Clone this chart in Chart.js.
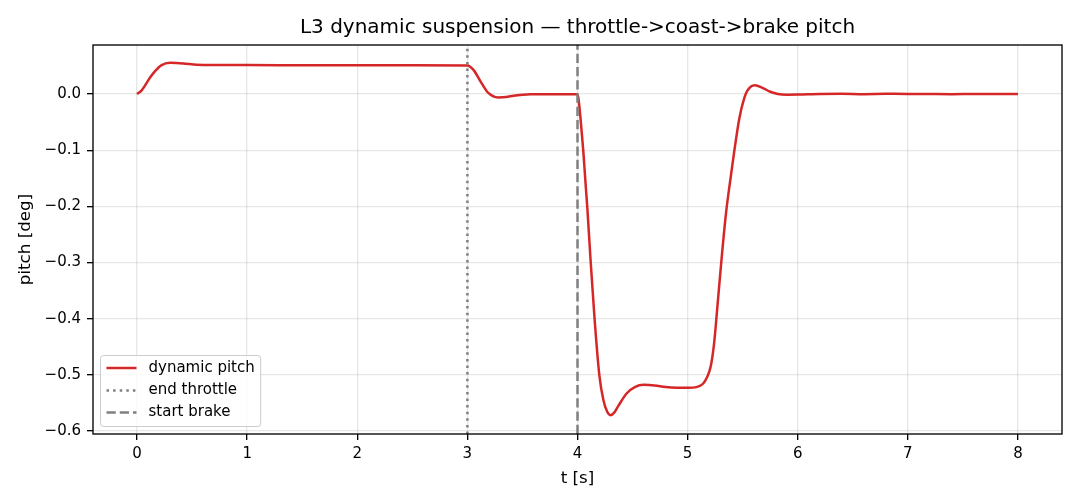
<!DOCTYPE html>
<html>
<head>
<meta charset="utf-8">
<script src="https://cdn.jsdelivr.net/npm/chart.js@4.4.1/dist/chart.umd.min.js"></script>
<style>
  html, body { margin: 0; padding: 0; background: #ffffff; }
  #wrap { width: 1080px; height: 504px; }
</style>
</head>
<body>
<div id="wrap"><canvas id="c" width="1080" height="504"></canvas></div>
<script>
// ---- data ----
const titleText = 'L3 dynamic suspension \u2014 throttle->coast->brake pitch';
const xLabel = 't [s]';
const yLabel = 'pitch [deg]';
const seriesLabels = ['dynamic pitch', 'end throttle', 'start brake'];

const tSeconds = [0, 0.04, 0.085, 0.12, 0.16, 0.22, 0.3, 0.42, 0.54, 0.7, 1.0, 1.5, 2.0, 2.5, 3.0,
  3.055, 3.13, 3.19, 3.28, 3.35, 3.42, 3.5, 3.57, 3.7, 3.85, 4.0,
  4.01, 4.03, 4.052, 4.076, 4.09, 4.12, 4.155, 4.198, 4.235, 4.27, 4.30, 4.335, 4.372, 4.448, 4.52, 4.60,
  4.7, 4.8, 4.9, 5.007, 5.08, 5.14, 5.175, 5.21, 5.24, 5.27, 5.31, 5.35, 5.39, 5.425, 5.47,
  5.515, 5.54, 5.61, 5.68, 5.75, 5.82, 5.90, 6.0, 6.2, 6.4, 6.6, 6.8, 7.0, 7.2, 7.4, 7.6, 7.8, 8.0];
const pitchDeg = [0, 0.006, 0.019, 0.030, 0.040, 0.051, 0.0555, 0.0545, 0.052, 0.0515, 0.0515, 0.0513, 0.0512, 0.0511, 0.0510,
  0.043, 0.019, 0.002, -0.006, -0.0055, -0.003, -0.0012, -0.0003, -0.0002, -0.0004, -0.0005,
  -0.010, -0.049, -0.100, -0.167, -0.205, -0.300, -0.400, -0.500, -0.545, -0.566, -0.572, -0.567, -0.555, -0.533, -0.522, -0.518,
  -0.519, -0.522, -0.523, -0.523, -0.522, -0.516, -0.505, -0.485, -0.445, -0.380, -0.290, -0.210, -0.150, -0.100, -0.043,
  -0.007, 0.005, 0.0155, 0.011, 0.004, 0.0, -0.0012, -0.001, 0.0002, 0.0004, -0.0002, 0.0003, 0.0002, -0.0001, -0.0003, 0.0001, 0.0001, 0.0];

const throttleEnd = 3.0;
const brakeStart = 4.0;

const xTicks = [0, 1, 2, 3, 4, 5, 6, 7, 8];
const xTickLabels = ['0', '1', '2', '3', '4', '5', '6', '7', '8'];
const yTicks = [0.0, -0.1, -0.2, -0.3, -0.4, -0.5, -0.6];
const yTickLabels = ['0.0', '\u22120.1', '\u22120.2', '\u22120.3', '\u22120.4', '\u22120.5', '\u22120.6'];

const xMin = -0.4, xMax = 8.4;
const yMin = -0.6055, yMax = 0.0873;

// ---- styles ----
const FONT = "'DejaVu Sans', 'Liberation Sans', sans-serif";
const RED = '#d62728';
const GRAY = '#808080';

const pitchPoints = tSeconds.map((t, i) => ({ x: t, y: pitchDeg[i] }));
const vline = (x) => [{ x: x, y: yMin }, { x: x, y: yMax }];

const bgPlugin = {
  id: 'bg',
  beforeDraw(chart) {
    const ctx = chart.ctx;
    ctx.save();
    ctx.fillStyle = '#ffffff';
    ctx.fillRect(0, 0, chart.width, chart.height);
    ctx.restore();
  }
};

const framePlugin = {
  id: 'frame',
  afterDraw(chart) {
    const { ctx, chartArea: a } = chart;
    ctx.save();
    ctx.strokeStyle = '#000000';
    ctx.lineWidth = 1.33;
    ctx.strokeRect(a.left, a.top, a.right - a.left, a.bottom - a.top);
    ctx.fillStyle = '#000000';
    ctx.font = '20px ' + FONT;
    ctx.textAlign = 'center';
    ctx.textBaseline = 'middle';
    ctx.fillText(titleText, (a.left + a.right) / 2, 28);

    const fs = 15;
    ctx.font = fs + 'px ' + FONT;
    const ds = chart.data.datasets;
    let maxW = 0;
    ds.forEach(d => { maxW = Math.max(maxW, ctx.measureText(d.label).width); });
    const pad = 0.4 * fs, handleLen = 2 * fs, handlePad = 0.8 * fs, axPad = 0.5 * fs;
    const boxW = pad * 2 + handleLen + handlePad + maxW;
    const boxH = 71;
    const bx = a.left + axPad;
    const by = a.bottom - axPad - boxH;
    const r = 3;
    ctx.beginPath();
    ctx.moveTo(bx + r, by);
    ctx.lineTo(bx + boxW - r, by);
    ctx.arcTo(bx + boxW, by, bx + boxW, by + r, r);
    ctx.lineTo(bx + boxW, by + boxH - r);
    ctx.arcTo(bx + boxW, by + boxH, bx + boxW - r, by + boxH, r);
    ctx.lineTo(bx + r, by + boxH);
    ctx.arcTo(bx, by + boxH, bx, by + boxH - r, r);
    ctx.lineTo(bx, by + r);
    ctx.arcTo(bx, by, bx + r, by, r);
    ctx.closePath();
    ctx.fillStyle = 'rgba(255,255,255,0.8)';
    ctx.fill();
    ctx.strokeStyle = '#cccccc';
    ctx.lineWidth = 1;
    ctx.stroke();
    const rowOff = [12.5, 35, 57];
    ds.forEach((d, i) => {
      const cy = by + rowOff[i];
      ctx.beginPath();
      ctx.setLineDash(d.borderDash || []);
      ctx.strokeStyle = d.borderColor;
      ctx.lineWidth = d.borderWidth;
      ctx.moveTo(bx + pad, cy);
      ctx.lineTo(bx + pad + handleLen, cy);
      ctx.stroke();
      ctx.setLineDash([]);
      ctx.fillStyle = '#000000';
      ctx.textAlign = 'left';
      ctx.textBaseline = 'middle';
      ctx.fillText(d.label, bx + pad + handleLen + handlePad, cy);
    });
    ctx.restore();
  }
};

new Chart(document.getElementById('c'), {
  type: 'line',
  data: {
    datasets: [
      {
        label: seriesLabels[0],
        data: pitchPoints,
        borderColor: RED,
        borderWidth: 2.5,
        pointRadius: 0,
        fill: false,
        cubicInterpolationMode: 'monotone',
        order: 2
      },
      {
        label: seriesLabels[1],
        data: vline(throttleEnd),
        borderColor: GRAY,
        borderWidth: 2.5,
        borderDash: [2.5, 4.1],
        pointRadius: 0,
        fill: false,
        order: 1
      },
      {
        label: seriesLabels[2],
        data: vline(brakeStart),
        borderColor: GRAY,
        borderWidth: 2.5,
        borderDash: [9.25, 4],
        pointRadius: 0,
        fill: false,
        order: 0
      }
    ]
  },
  options: {
    responsive: false,
    animation: false,
    devicePixelRatio: 1,
    layout: { padding: { top: 45, right: 18, bottom: 0, left: 0 } },
    plugins: {
      legend: { display: false },
      title: { display: false },
      tooltip: { enabled: false }
    },
    scales: {
      x: {
        type: 'linear',
        min: xMin,
        max: xMax,
        afterBuildTicks: (s) => { s.ticks = xTicks.map(v => ({ value: v })); },
        afterFit: (s) => { s.height = 70; },
        ticks: {
          callback: (v) => { const i = xTicks.indexOf(v); return i >= 0 ? xTickLabels[i] : ''; },
          color: '#000000',
          font: { family: FONT, size: 15 },
          padding: 5,
          maxRotation: 0,
          autoSkip: false
        },
        grid: {
          color: 'rgba(176,176,176,0.3)',
          lineWidth: 1.33,
          tickColor: '#000000',
          tickLength: 6,
          tickWidth: 1.33
        },
        border: { display: false },
        title: {
          display: true,
          text: xLabel,
          color: '#000000',
          font: { family: FONT, size: 16.7 },
          padding: { top: 0, bottom: 15 }
        }
      },
      y: {
        type: 'linear',
        min: yMin,
        max: yMax,
        afterBuildTicks: (s) => { s.ticks = yTicks.map(v => ({ value: v })); },
        afterFit: (s) => { s.width = 93; },
        ticks: {
          callback: (v) => {
            const i = yTicks.findIndex(t => Math.abs(t - v) < 1e-9);
            return i >= 0 ? yTickLabels[i] : '';
          },
          color: '#000000',
          font: { family: FONT, size: 15 },
          padding: 6,
          autoSkip: false
        },
        grid: {
          color: 'rgba(176,176,176,0.3)',
          lineWidth: 1.33,
          tickColor: '#000000',
          tickLength: 6,
          tickWidth: 1.33
        },
        border: { display: false },
        title: {
          display: true,
          text: yLabel,
          color: '#000000',
          font: { family: FONT, size: 16.7 },
          padding: { top: 16, bottom: 0 }
        }
      }
    }
  },
  plugins: [bgPlugin, framePlugin]
});
</script>
</body>
</html>
